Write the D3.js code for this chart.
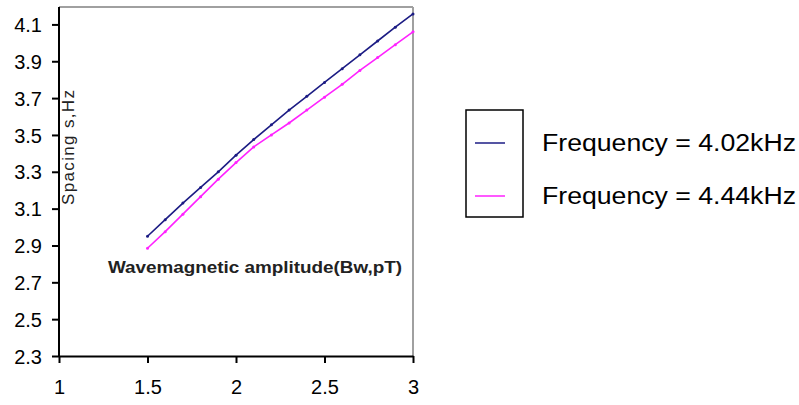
<!DOCTYPE html>
<html>
<head>
<meta charset="utf-8">
<script src="https://cdn.jsdelivr.net/npm/d3@7"></script>
<style>
  body { margin: 0; background: #fff; }
  svg { display: block; font-family: "Liberation Sans", Arial, sans-serif; }
</style>
</head>
<body>
<div id="chart"></div>
<script>
// Data
const amplitude = [1.5, 1.6, 1.7, 1.8, 1.9, 2.0, 2.1, 2.2, 2.3, 2.4, 2.5, 2.6, 2.7, 2.8, 2.9, 3.0];
const spacing402 = [2.95, 3.04, 3.13, 3.215, 3.30, 3.39, 3.475, 3.555, 3.635, 3.71, 3.785, 3.86, 3.935, 4.01, 4.085, 4.157];
const spacing444 = [2.885, 2.975, 3.07, 3.165, 3.26, 3.35, 3.435, 3.50, 3.565, 3.635, 3.705, 3.775, 3.85, 3.92, 3.99, 4.06];
const xTicks = [1, 1.5, 2, 2.5, 3];
const yTicks = [2.3, 2.5, 2.7, 2.9, 3.1, 3.3, 3.5, 3.7, 3.9, 4.1];
const seriesNames = ["Frequency = 4.02kHz", "Frequency = 4.44kHz"];
const seriesColors = ["#1c1c84", "#ff22ff"];

const width = 799, height = 405;
const svg = d3.select("#chart").append("svg")
    .attr("width", width)
    .attr("height", height);

const x = d3.scaleLinear().domain([1, 3]).range([59, 413]);
const y = d3.scaleLinear().domain([2.3, 4.2]).range([356, 6]);

// plot frame: gray top/right, black axes
svg.append("line")
    .attr("x1", x(1)).attr("x2", x(3))
    .attr("y1", 7).attr("y2", 7)
    .attr("stroke", "#a0a0a0").attr("stroke-width", 2);
svg.append("line")
    .attr("x1", x(3)).attr("x2", x(3))
    .attr("y1", 7).attr("y2", y(2.3))
    .attr("stroke", "#a0a0a0").attr("stroke-width", 2);

const yAxis = svg.append("g")
    .attr("transform", `translate(${x(1)},0)`)
    .call(d3.axisLeft(y).tickValues(yTicks).tickFormat(d3.format(".1f")).tickSize(7).tickSizeOuter(0));
yAxis.select(".domain").attr("stroke", "#000").attr("stroke-width", 2).attr("d", `M0,7V${y(2.3)}`);
yAxis.selectAll(".tick line").attr("stroke", "#000").attr("stroke-width", 2);
yAxis.selectAll(".tick text")
    .attr("x", -17)
    .attr("dy", "0.36em")
    .attr("fill", "#000")
    .style("font-size", "20px");

const xAxis = svg.append("g")
    .attr("transform", `translate(0,${y(2.3)})`)
    .call(d3.axisBottom(x).tickValues(xTicks).tickFormat(d3.format("")).tickSize(7).tickSizeOuter(0));
xAxis.select(".domain").attr("stroke", "#000").attr("stroke-width", 2);
xAxis.selectAll(".tick line").attr("stroke", "#000").attr("stroke-width", 2);
xAxis.selectAll(".tick text")
    .attr("y", 24)
    .attr("fill", "#000")
    .style("font-size", "20px");

// series
const line = d3.line()
    .x((d, i) => x(amplitude[i]))
    .y(d => y(d));

[spacing402, spacing444].forEach((values, k) => {
    svg.append("path")
        .datum(values)
        .attr("fill", "none")
        .attr("stroke", seriesColors[k])
        .attr("stroke-width", 1.6)
        .attr("d", line);

    svg.selectAll(".dot" + k)
        .data(values)
        .enter().append("circle")
        .attr("class", "dot" + k)
        .attr("cx", (d, i) => x(amplitude[i]))
        .attr("cy", d => y(d))
        .attr("r", 1.5)
        .attr("fill", seriesColors[k]);
});

// axis titles placed inside the plot, as in the original
svg.append("text")
    .attr("x", 108)
    .attr("y", 273)
    .attr("textLength", 294)
    .attr("lengthAdjust", "spacingAndGlyphs")
    .attr("fill", "#222")
    .style("font-size", "16px")
    .style("font-weight", "bold")
    .text("Wavemagnetic amplitude(Bw,pT)");

svg.append("text")
    .attr("transform", "translate(74,205) rotate(-90)")
    .attr("textLength", 115)
    .attr("lengthAdjust", "spacing")
    .attr("fill", "#222")
    .style("font-size", "17px")
    .text("Spacing s,Hz");

// legend
svg.append("rect")
    .attr("x", 466).attr("y", 110)
    .attr("width", 57).attr("height", 107)
    .attr("fill", "none")
    .attr("stroke", "#000")
    .attr("stroke-width", 1.5);

const legendY = [143, 196];
seriesNames.forEach((name, k) => {
    svg.append("line")
        .attr("x1", 475).attr("x2", 505)
        .attr("y1", legendY[k]).attr("y2", legendY[k])
        .attr("stroke", seriesColors[k])
        .attr("stroke-width", 1.5);
    svg.append("text")
        .attr("x", 542)
        .attr("y", legendY[k] + 8)
        .attr("textLength", 254)
        .attr("lengthAdjust", "spacingAndGlyphs")
        .attr("fill", "#000")
        .style("font-size", "23px")
        .text(name);
});
</script>
</body>
</html>
